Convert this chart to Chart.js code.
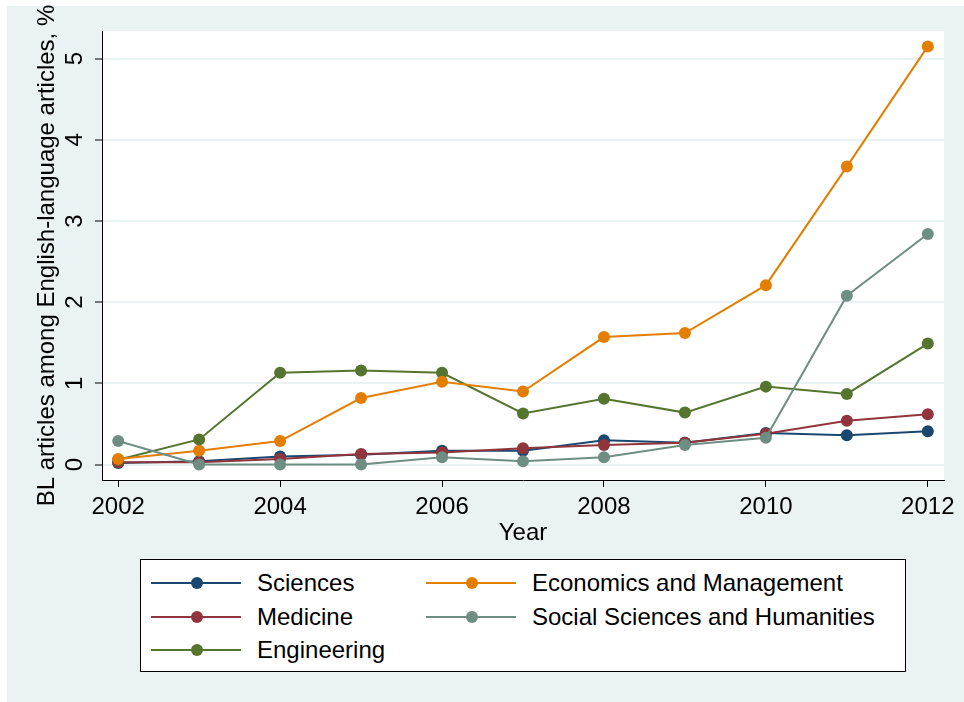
<!DOCTYPE html>
<html>
<head>
<meta charset="utf-8">
<script src="https://cdn.jsdelivr.net/npm/chart.js@4.4.1/dist/chart.umd.min.js"></script>
<style>
    body { margin: 0; background: #ffffff; }
    #wrap { position: relative; width: 964px; height: 702px; overflow: hidden; font-family: 'Liberation Sans', Arial, Helvetica, sans-serif; }
    #bg { position: absolute; left: 7px; top: 6px; right: 0; bottom: 0; background: #eaf2f3; }
    #chartCanvas { position: absolute; left: 0; top: 0; }
    #legendBox { position: absolute; left: 140px; top: 559px; width: 764px; height: 111px; background: #ffffff; border: 1px solid #000000; }
    .legendItem { position: absolute; height: 34px; line-height: 34px; font-size: 24px; color: #000000; white-space: nowrap; }
    .legendLine { position: absolute; top: 16px; width: 90px; height: 2px; }
    .legendDot { position: absolute; top: 11px; left: 39px; width: 12px; height: 12px; border-radius: 50%; }
    .legendText { position: absolute; }
</style>
</head>
<body>
<div id="wrap">
    <div id="bg"></div>
    <canvas id="chartCanvas" width="964" height="702"></canvas>
    <div id="legendBox"></div>
</div>
<script>
// Years on the x-axis
const years = [2002, 2003, 2004, 2005, 2006, 2007, 2008, 2009, 2010, 2011, 2012];

// Series values (% of BL articles among English-language articles)
const sciences    = [0.02, 0.04, 0.10, 0.12, 0.17, 0.17, 0.30, 0.27, 0.39, 0.36, 0.41];
const medicine    = [0.03, 0.03, 0.07, 0.13, 0.15, 0.20, 0.24, 0.27, 0.38, 0.54, 0.62];
const engineering = [0.06, 0.31, 1.13, 1.16, 1.13, 0.63, 0.81, 0.64, 0.96, 0.87, 1.49];
const economics   = [0.07, 0.17, 0.29, 0.82, 1.02, 0.90, 1.57, 1.62, 2.21, 3.67, 5.15];
const social      = [0.29, 0.00, 0.00, 0.00, 0.09, 0.04, 0.09, 0.24, 0.33, 2.08, 2.84];

// Tick labels
const xTicks = [2002, 2004, 2006, 2008, 2010, 2012];
const yTicks = [0, 1, 2, 3, 4, 5];

const fontFamily = "'Liberation Sans', Arial, Helvetica, sans-serif";

// Series in drawing order (later ones drawn on top)
const series = [
    { label: 'Sciences', values: sciences, color: '#1a476f' },
    { label: 'Medicine', values: medicine, color: '#90353b' },
    { label: 'Engineering', values: engineering, color: '#55752f' },
    { label: 'Economics and Management', values: economics, color: '#e37e00' },
    { label: 'Social Sciences and Humanities', values: social, color: '#6e8e84' }
];

const datasets = series.map((s, i) => ({
    label: s.label,
    data: s.values.map((v, j) => ({ x: years[j], y: v })),
    borderColor: s.color,
    backgroundColor: s.color,
    borderWidth: 2,
    pointRadius: 6,
    pointBorderWidth: 0,
    pointBackgroundColor: s.color,
    tension: 0,
    order: series.length - i // last series on top
}));

// White plot region
const plotBackground = {
    id: 'plotBackground',
    beforeDraw(chart) {
        const { ctx, chartArea } = chart;
        ctx.save();
        ctx.fillStyle = '#ffffff';
        ctx.fillRect(chartArea.left, chartArea.top, chartArea.right - chartArea.left, chartArea.bottom - chartArea.top);
        ctx.restore();
    }
};

const ctx = document.getElementById('chartCanvas').getContext('2d');

const config = {
    type: 'line',
    data: { datasets: datasets },
    options: {
        responsive: false,
        animation: false,
        devicePixelRatio: 1,
        layout: { padding: { left: 0, top: 31, right: 20, bottom: 142 } },
        plugins: {
            legend: { display: false },
            tooltip: { enabled: false }
        },
        scales: {
            x: {
                type: 'linear',
                min: 2001.8,
                max: 2012.2,
                afterFit: (scale) => { scale.height = 80; },
                afterBuildTicks: (scale) => { scale.ticks = xTicks.map(v => ({ value: v })); },
                ticks: {
                    autoSkip: false,
                    maxRotation: 0,
                    padding: 6,
                    color: '#000000',
                    font: { family: fontFamily, size: 24 },
                    callback: (v) => String(v)
                },
                grid: {
                    drawOnChartArea: false,
                    drawTicks: true,
                    tickLength: 7,
                    tickColor: '#000000',
                    tickWidth: 1
                },
                border: { display: true, color: '#000000', width: 1 },
                title: {
                    display: true,
                    text: 'Year',
                    color: '#000000',
                    font: { family: fontFamily, size: 24 },
                    padding: { top: 0, bottom: 12 }
                }
            },
            y: {
                type: 'linear',
                min: -0.19,
                max: 5.34,
                afterFit: (scale) => { scale.width = 102; },
                afterBuildTicks: (scale) => { scale.ticks = yTicks.map(v => ({ value: v })); },
                ticks: {
                    autoSkip: false,
                    minRotation: 90,
                    maxRotation: 90,
                    crossAlign: 'center',
                    padding: 13,
                    color: '#000000',
                    font: { family: fontFamily, size: 24 },
                    callback: (v) => String(v)
                },
                grid: {
                    color: '#eaf2f3',
                    lineWidth: 2,
                    drawTicks: true,
                    tickLength: 7,
                    tickColor: '#000000',
                    tickWidth: 1
                },
                border: { display: true, color: '#000000', width: 1 },
                title: {
                    display: true,
                    text: 'BL articles among English-language articles, %',
                    color: '#000000',
                    font: { family: fontFamily, size: 24 },
                    padding: { top: 33, bottom: 0 }
                }
            }
        }
    },
    plugins: [plotBackground]
};

const lineChart = new Chart(ctx, config);

// HTML legend: two columns, filled column-first
const legendBox = document.getElementById('legendBox');
const legendRows = [23, 57, 90];      // row centres relative to the box
const legendCols = [10, 285];         // sample line start relative to the box
series.forEach((s, i) => {
    const col = Math.floor(i / 3);
    const row = i % 3;
    const item = document.createElement('div');
    item.className = 'legendItem';
    item.style.left = legendCols[col] + 'px';
    item.style.top = (legendRows[row] - 17) + 'px';
    item.innerHTML =
        '<div class="legendLine" style="background:' + s.color + '"></div>' +
        '<div class="legendDot" style="background:' + s.color + ';left:' + 40 + 'px"></div>' +
        '<div class="legendText" style="left:106px">' + s.label + '</div>';
    legendBox.appendChild(item);
});
</script>
</body>
</html>
